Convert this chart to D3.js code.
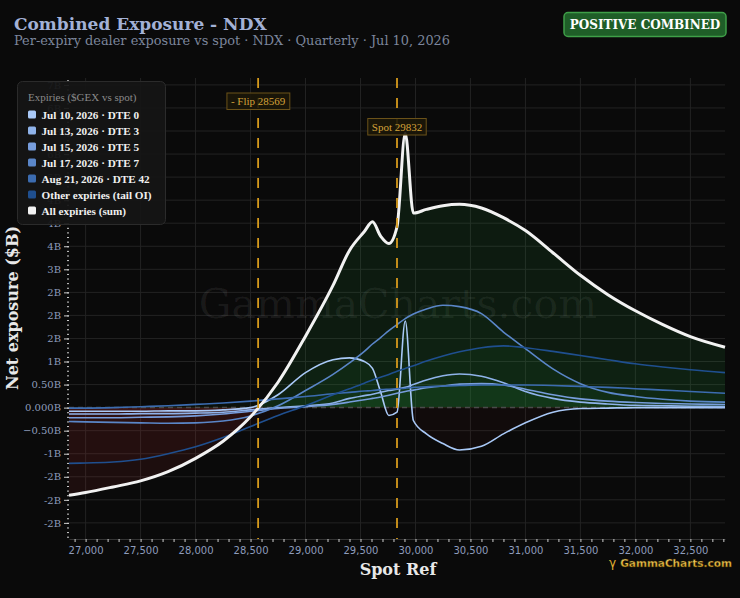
<!DOCTYPE html>
<meta charset="utf-8">
<script src="https://d3js.org/d3.v7.min.js"></script>
<style>
  body { margin: 0; background: #0a0a0a; }
</style>
<div id="chart"></div>
<script>
// spot grid (x) and per-expiry exposure in $B
var spotRef = [26849, 27000, 27250, 27500, 27750, 28000, 28250, 28500, 28750, 29000, 29250, 29400,
               29535, 29609, 29683, 29758, 29832, 29907, 29981, 30100, 30250, 30400, 30600, 30800,
               31000, 31250, 31500, 31750, 32000, 32250, 32500, 32815];

var dte0  = [-0.08,-0.08,-0.08,-0.08,-0.07,-0.07,-0.05,0.0,0.28,0.76,1.04,1.08,
             1.0,0.85,0.34,-0.17,-0.10,1.88,-0.28,-0.57,-0.78,-0.92,-0.84,-0.57,
             -0.33,-0.10,-0.02,-0.01,0,0,0,0];
var dte3  = [-0.14,-0.14,-0.14,-0.13,-0.13,-0.12,-0.10,-0.05,0.0,0.04,0.10,0.20,
             0.26,0.29,0.33,0.37,0.40,0.44,0.50,0.60,0.69,0.73,0.68,0.54,
             0.35,0.20,0.12,0.08,0.05,0.04,0.03,0.02];
var dte5  = [-0.22,-0.22,-0.22,-0.21,-0.20,-0.18,-0.14,-0.08,-0.02,0.02,0.07,0.12,
             0.17,0.20,0.23,0.27,0.31,0.35,0.38,0.43,0.47,0.51,0.52,0.49,
             0.40,0.28,0.19,0.14,0.11,0.09,0.08,0.065];
var dte7  = [-0.30,-0.31,-0.32,-0.33,-0.34,-0.33,-0.29,-0.18,0.04,0.37,0.72,0.97,
             1.22,1.38,1.52,1.67,1.80,1.93,2.03,2.14,2.22,2.19,2.04,1.64,
             1.28,0.84,0.52,0.33,0.24,0.18,0.14,0.12];
var dte42 = [-0.01,-0.01,0.0,0.02,0.04,0.07,0.10,0.14,0.19,0.24,0.30,0.33,
             0.36,0.37,0.39,0.40,0.41,0.42,0.44,0.45,0.47,0.48,0.49,0.49,
             0.49,0.48,0.46,0.44,0.41,0.38,0.35,0.31];
var other = [-1.21,-1.20,-1.18,-1.12,-1.00,-0.85,-0.65,-0.41,-0.17,0.04,0.28,0.41,
             0.53,0.60,0.66,0.72,0.79,0.85,0.91,1.01,1.12,1.21,1.30,1.34,
             1.30,1.22,1.13,1.04,0.95,0.88,0.82,0.76];
var allSum = [-1.90,-1.84,-1.72,-1.59,-1.39,-1.10,-0.73,-0.20,0.55,1.55,2.65,3.41,
              3.82,4.03,3.72,3.56,3.92,5.95,4.22,4.30,4.38,4.41,4.33,4.12,
              3.84,3.36,2.87,2.45,2.10,1.80,1.54,1.31];

var seriesNames = ["Jul 10, 2026 · DTE 0", "Jul 13, 2026 · DTE 3", "Jul 15, 2026 · DTE 5",
                   "Jul 17, 2026 · DTE 7", "Aug 21, 2026 · DTE 42", "Other expiries (tail OI)",
                   "All expiries (sum)"];
var seriesValues = [dte0, dte3, dte5, dte7, dte42, other, allSum];
var seriesColors = ["#a9c9f7", "#8fb3ea", "#779ddc", "#5a86c8", "#3c6cb0", "#1f4f8f", "#f2f2f2"];

var spot = 29832, flip = 28569;
var xTicks = d3.range(27000, 32501, 500);
var yTicks = d3.range(-2.5, 7.01, 0.5);

var W = 740, H = 598;
var margin = {top: 78, right: 15, bottom: 59, left: 69};

var svg = d3.select("#chart").append("svg")
    .attr("width", W).attr("height", H)
    .attr("font-family", "DejaVu Serif");

svg.append("rect").attr("width", W).attr("height", H).attr("fill", "#0a0a0a");

var x = d3.scaleLinear().domain([26849, 32815]).range([margin.left, W - margin.right]);
var y = d3.scaleLinear().domain([-2.85, 7.15]).range([H - margin.bottom, margin.top]);

// python-style rounding (half to even) for the tick labels
function roundEven(v) {
  if (Math.abs(Math.abs(v % 1) - 0.5) < 1e-9) return 2 * Math.round(v / 2);
  return Math.round(v);
}
function fmtB(v) {
  if (Math.abs(v) < 1e-9) return "0.000B";
  if (Math.abs(v) < 1) return d3.format(".2f")(v) + "B";
  return roundEven(v) + "B";
}

// grid
var grid = svg.append("g");
grid.selectAll(".gx").data(xTicks).enter().append("line")
    .attr("x1", d => x(d)).attr("x2", d => x(d))
    .attr("y1", margin.top).attr("y2", H - margin.bottom)
    .attr("stroke", "#232323");
grid.selectAll(".gy").data(yTicks).enter().append("line")
    .attr("x1", margin.left).attr("x2", W - margin.right)
    .attr("y1", d => y(d)).attr("y2", d => y(d))
    .attr("stroke", "#232323");

// watermark
svg.append("text")
    .attr("x", 398).attr("y", 318)
    .attr("text-anchor", "middle")
    .attr("font-size", 41)
    .attr("fill", "#ffffff").attr("fill-opacity", 0.065)
    .text("GammaCharts.com");

// clip paths for positive / negative fills
var defs = svg.append("defs");
defs.append("clipPath").attr("id", "clipPos").append("rect")
    .attr("x", margin.left).attr("y", margin.top)
    .attr("width", W - margin.left - margin.right).attr("height", y(0) - margin.top);
defs.append("clipPath").attr("id", "clipNeg").append("rect")
    .attr("x", margin.left).attr("y", y(0))
    .attr("width", W - margin.left - margin.right).attr("height", H - margin.bottom - y(0));

var area = d3.area()
    .x((d, i) => x(spotRef[i]))
    .y0(y(0))
    .y1(d => y(d))
    .curve(d3.curveMonotoneX);
var line = d3.line()
    .x((d, i) => x(spotRef[i]))
    .y(d => y(d))
    .curve(d3.curveMonotoneX);

var fills = svg.append("g");
seriesValues.forEach(function(vals, i) {
  var isSum = i === seriesValues.length - 1;
  fills.append("path").attr("d", area(vals))
      .attr("clip-path", "url(#clipPos)")
      .attr("fill", "#2c9c3e").attr("fill-opacity", isSum ? 0.12 : 0.05);
  fills.append("path").attr("d", area(vals))
      .attr("clip-path", "url(#clipNeg)")
      .attr("fill", "#c03434").attr("fill-opacity", isSum ? 0.11 : 0.04);
});

// zero line
svg.append("line")
    .attr("x1", margin.left).attr("x2", W - margin.right)
    .attr("y1", y(0)).attr("y2", y(0))
    .attr("stroke", "#4a4a4a").attr("stroke-width", 1.5)
    .attr("stroke-dasharray", "5,4");

// lines
var lines = svg.append("g").attr("fill", "none");
seriesValues.forEach(function(vals, i) {
  var isSum = i === seriesValues.length - 1;
  lines.append("path").attr("d", line(vals))
      .attr("stroke", seriesColors[i])
      .attr("stroke-width", isSum ? 3 : 1.6)
      .attr("stroke-linejoin", "miter");
});

// flip / spot markers
var markers = [{v: flip, label: "- Flip " + flip, y: 101}, {v: spot, label: "Spot " + spot, y: 126.5}];
markers.forEach(function(m) {
  svg.append("line")
      .attr("x1", x(m.v)).attr("x2", x(m.v))
      .attr("y1", margin.top).attr("y2", H - margin.bottom)
      .attr("stroke", "#d69a1c").attr("stroke-width", 1.8)
      .attr("stroke-dasharray", "10,10");
});
markers.forEach(function(m) {
  var g = svg.append("g");
  var t = g.append("text")
      .attr("x", x(m.v)).attr("y", m.y + 4)
      .attr("text-anchor", "middle")
      .attr("font-family", "Liberation Serif")
      .attr("font-size", 11)
      .attr("fill", "#d4a23a")
      .text(m.label);
  var bb = t.node().getBBox();
  g.insert("rect", "text")
      .attr("x", bb.x - 4).attr("y", m.y - 8).attr("width", bb.width + 8).attr("height", 16.5)
      .attr("fill", "#1b1608").attr("fill-opacity", 0.9)
      .attr("stroke", "#6b5219").attr("stroke-width", 1);
});

// y axis
var yAxis = svg.append("g").attr("transform", "translate(" + margin.left + ",0)")
    .call(d3.axisLeft(y).tickValues(yTicks).tickFormat(fmtB).tickSize(5).tickPadding(3));
yAxis.select(".domain").remove();
yAxis.selectAll("line").attr("stroke", "#cfcfcf");
yAxis.selectAll("text").attr("fill", "#8e9cbc").attr("font-size", 10)
    .attr("font-family", "DejaVu Serif");
var yMinor = svg.append("g").attr("transform", "translate(" + margin.left + ",0)")
    .call(d3.axisLeft(y).tickValues(d3.range(-28, 72).map(d => d / 10)).tickFormat("").tickSize(2));
yMinor.select(".domain").remove();
yMinor.selectAll("line").attr("stroke", "#cfcfcf");

// x axis
var xAxis = svg.append("g").attr("transform", "translate(0," + (H - margin.bottom) + ")")
    .call(d3.axisBottom(x).tickValues(xTicks).tickFormat(d3.format(",")).tickSize(0).tickPadding(8));
xAxis.select(".domain").attr("stroke", "#333");
xAxis.selectAll("text").attr("fill", "#8e9cbc").attr("font-size", 10)
    .attr("font-family", "DejaVu Sans");
var xMinor = svg.append("g").attr("transform", "translate(0," + (H - margin.bottom) + ")")
    .call(d3.axisBottom(x).tickValues(d3.range(26900, 32801, 100)).tickFormat("").tickSize(3));
xMinor.select(".domain").remove();
xMinor.selectAll("line").attr("stroke", "#cfcfcf");

// axis titles
svg.append("text")
    .attr("x", 398).attr("y", 575)
    .attr("text-anchor", "middle")
    .attr("font-size", 16).attr("font-weight", "bold")
    .attr("fill", "#e8e8e8")
    .text("Spot Ref");
svg.append("text")
    .attr("transform", "translate(18,308) rotate(-90)")
    .attr("text-anchor", "middle")
    .attr("font-size", 16).attr("font-weight", "bold")
    .attr("fill", "#e8e8e8")
    .text("Net exposure ($B)");

// title
svg.append("text").attr("x", 14).attr("y", 30)
    .attr("font-size", 17).attr("font-weight", "bold")
    .attr("fill", "#a3b1d6")
    .text("Combined Exposure - NDX");
svg.append("text").attr("x", 14).attr("y", 45)
    .attr("font-size", 12.9)
    .attr("fill", "#7c869c")
    .text("Per-expiry dealer exposure vs spot · NDX · Quarterly · Jul 10, 2026");

// badge
var badge = svg.append("g");
badge.append("rect")
    .attr("x", 564).attr("y", 12.5).attr("width", 162).attr("height", 24).attr("rx", 4)
    .attr("fill", "#1f5e28").attr("stroke", "#3f9f48").attr("stroke-width", 1.5);
badge.append("text")
    .attr("x", 645).attr("y", 29)
    .attr("text-anchor", "middle")
    .attr("font-size", 12).attr("font-weight", "bold")
    .attr("fill", "#ffffff")
    .text("POSITIVE COMBINED");

// legend
var legend = svg.append("g").attr("transform", "translate(17.5,81.5)")
    .attr("font-family", "Liberation Serif");
legend.append("rect")
    .attr("width", 148).attr("height", 143).attr("rx", 5)
    .attr("fill", "#151515").attr("fill-opacity", 0.94)
    .attr("stroke", "#2b2b2b");
legend.append("text")
    .attr("x", 10.5).attr("y", 19.5)
    .attr("font-size", 11).attr("fill", "#8a8a8a")
    .text("Expiries ($GEX vs spot)");
var item = legend.selectAll(".item").data(seriesNames).enter().append("g")
    .attr("transform", (d, i) => "translate(10.5," + (33.5 + i * 16) + ")");
item.append("rect")
    .attr("x", 0).attr("y", -4.5).attr("width", 8).attr("height", 8).attr("rx", 1.5)
    .attr("fill", (d, i) => seriesColors[i]);
item.append("text")
    .attr("x", 13.5).attr("y", 4)
    .attr("font-size", 11.2).attr("font-weight", "bold")
    .attr("fill", "#f0f0f0")
    .text(d => d);

// logo
var grad = defs.append("linearGradient").attr("id", "gold")
    .attr("x1", 0).attr("y1", 0).attr("x2", 0).attr("y2", 1);
grad.append("stop").attr("offset", "0%").attr("stop-color", "#ffe27e");
grad.append("stop").attr("offset", "100%").attr("stop-color", "#d9a21e");
svg.append("text")
    .attr("x", 609).attr("y", 567)
    .attr("font-family", "DejaVu Sans")
    .attr("font-size", 12).attr("fill", "#e0b030")
    .text("γ");
svg.append("text")
    .attr("x", 732).attr("y", 567)
    .attr("text-anchor", "end")
    .attr("font-family", "DejaVu Sans")
    .attr("font-size", 10.5).attr("font-weight", "bold")
    .attr("fill", "url(#gold)")
    .attr("stroke", "#3a2a00").attr("stroke-width", 0.4)
    .text("GammaCharts.com");
</script>
